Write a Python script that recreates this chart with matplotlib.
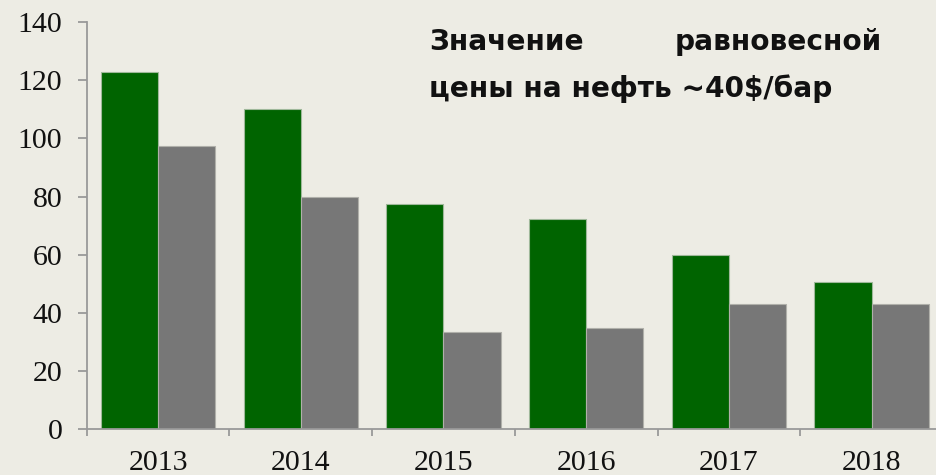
import matplotlib
matplotlib.use("Agg")
import matplotlib.pyplot as plt
import numpy as np

# Data
years = ["2013", "2014", "2015", "2016", "2017", "2018"]
green_values = [122.7, 110.0, 77.4, 72.2, 60.0, 50.6]
gray_values = [97.5, 80.0, 33.6, 34.9, 43.1, 43.2]
note_line1_left = "Значение"
note_line1_right = "равновесной"
note_line2 = "цены на нефть ~40$/бар"

bg = "#edece4"
fig = plt.figure(figsize=(9.36, 4.75), dpi=100, facecolor=bg)
ax = fig.add_axes([0.0926, 0.0962, 0.9148, 0.8575], facecolor=bg)

x = np.arange(len(years))
barWidth = 0.4
ax.bar(x - barWidth / 2, green_values, width=barWidth, color="#006400",
       edgecolor="#9fb89a", linewidth=0.8)
ax.bar(x + barWidth / 2, gray_values, width=barWidth, color="#777777",
       edgecolor="#b0b0aa", linewidth=0.8)

ax.set_xlim(-0.5, len(years) - 0.5)
ax.set_ylim(0, 140)
ax.set_yticks(np.arange(0, 141, 20))

# ticks at category boundaries, labels in category centers
ax.set_xticks(np.arange(len(years) + 1) - 0.5)
ax.set_xticklabels([])
ax.set_xticks(x, minor=True)
ax.set_xticklabels(years, minor=True)

for s in ["top", "right"]:
    ax.spines[s].set_visible(False)
for s in ["left", "bottom"]:
    ax.spines[s].set_color("#999999")
    ax.spines[s].set_linewidth(1.3)

tick_font = "Liberation Serif"
ax.tick_params(axis="y", length=6.5, width=1.3, color="#999999", pad=11,
               labelsize=21.5, labelcolor="#111111")
ax.tick_params(axis="x", which="major", length=5, width=1.3, color="#999999")
ax.tick_params(axis="x", which="minor", length=0, pad=15, labelsize=21.5,
               labelcolor="#111111")
for lbl in ax.get_yticklabels() + ax.get_xticklabels(minor=True):
    lbl.set_fontfamily(tick_font)

# annotation, justified first line
note_kw = dict(fontsize=20.2, fontweight="bold", family="DejaVu Sans",
               color="#111111", va="baseline")
fig.text(429 / 936, 1 - 50 / 475, note_line1_left, ha="left", **note_kw)
fig.text(882 / 936, 1 - 50 / 475, note_line1_right, ha="right", **note_kw)
fig.text(429 / 936, 1 - 97 / 475, note_line2, ha="left", **note_kw)

fig.savefig("out.png", dpi=100, facecolor=bg)
